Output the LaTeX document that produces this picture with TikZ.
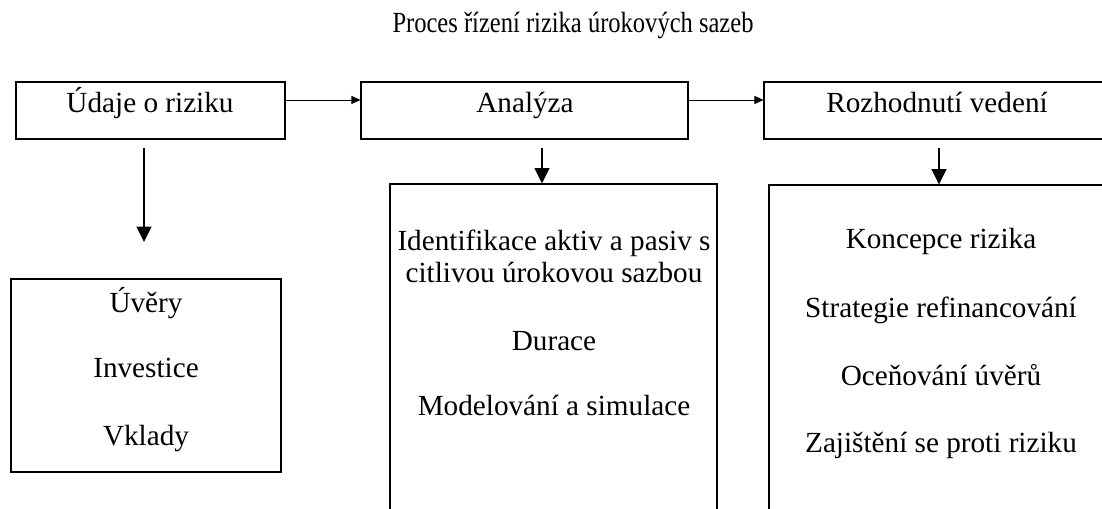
\documentclass[tikz,border=0pt]{standalone}
\usepackage{fontspec}
\setmainfont{Liberation Serif}
\usetikzlibrary{arrows.meta,positioning}

\begin{document}
\begin{tikzpicture}[x=0.75pt,y=-0.75pt,>={Triangle[length=6.75pt,width=6pt]},
                    every node/.style={font=\fontsize{21.9}{26}\selectfont},
                    box/.style={rectangle,draw,line width=0.8pt,inner sep=0pt},
                    txt/.style={inner sep=0pt,anchor=base},
                    flow/.style={->,line width=0.6pt},
                    drop/.style={-{Triangle[length=11.5pt,width=11pt]},line width=1.5pt,shorten <=6pt}]

  \useasboundingbox (0,0) rectangle (1102,508);
  \clip (0,0) rectangle (1102,508);

  \node[txt] (title) at (573,32) {\scalebox{0.84}[1]{Proces řízení rizika úrokových sazeb}};

  % top row
  \node[box,minimum width=201.75pt,minimum height=42.75pt] (b1) at (150.5,110.5) {};
  \node[box,minimum width=245.25pt,minimum height=42.75pt] (b2) at (524.5,110.5) {};
  \node[box,minimum width=259.5pt,minimum height=42.75pt] (b3) at (937,110.5) {};
  \node[txt] (t1) at (150,112) {Údaje o riziku};
  \node[txt] (t2) at (525,112) {Analýza};
  \node[txt] (t3) at (937,112) {Rozhodnutí vedení};

  % bottom row
  \node[box,minimum width=202.5pt,minimum height=144.75pt] (b4) at (146,375.5) {};
  \node[box,minimum width=245.25pt,minimum height=282pt] (b5) at (553.5,372) {};
  \node[box,minimum width=258pt,minimum height=281.25pt] (b6) at (941,372.5) {};

  \node[txt] (u1) at (146,312) {Úvěry};
  \node[txt] (u2) at (146,377) {Investice};
  \node[txt] (u3) at (146,445) {Vklady};

  \node[txt] (a1) at (554,250) {Identifikace aktiv a pasiv s};
  \node[txt] (a2) at (554,282) {citlivou úrokovou sazbou};
  \node[txt] (a3) at (554,350) {Durace};
  \node[txt] (a4) at (554,415) {Modelování a simulace};

  \node[txt] (r1) at (941,248) {Koncepce rizika};
  \node[txt] (r2) at (941,317) {Strategie refinancování};
  \node[txt] (r3) at (941,385) {Oceňování úvěrů};
  \node[txt] (r4) at (941,452) {Zajištění se proti riziku};

  \draw[flow] ([yshift=7.9pt]b1.east) -- ([yshift=7.9pt]b2.west);
  \draw[flow] ([yshift=7.9pt]b2.east) -- ([yshift=7.9pt]b3.west);

  \coordinate (v1) at (144,242);
  \coordinate (v2) at (542,0);
  \coordinate (v3) at (939,0);
  \draw[drop] (b1.south -| v1) -- (v1);
  \draw[drop] (b2.south -| v2) -- (b5.north -| v2);
  \draw[drop] (b3.south -| v3) -- (b6.north -| v3);
\end{tikzpicture}
\end{document}
